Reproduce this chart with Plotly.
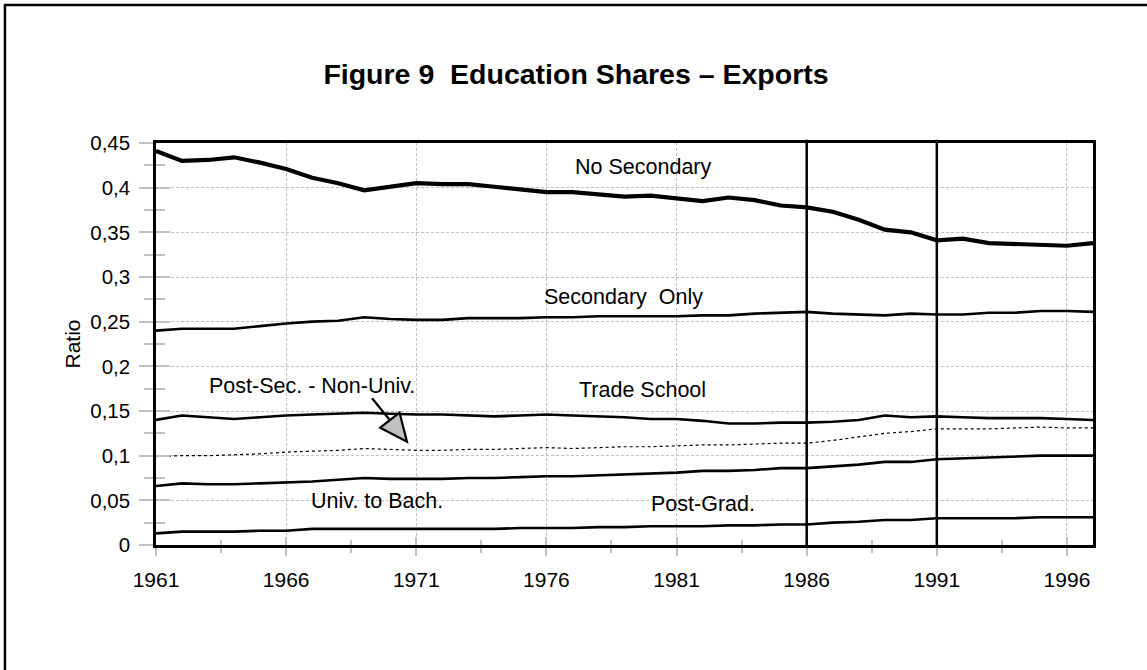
import plotly.graph_objects as go

years = list(range(1961, 1998))

no_secondary = [0.441, 0.430, 0.431, 0.434, 0.428, 0.421, 0.411, 0.405, 0.397, 0.401,
                0.405, 0.404, 0.404, 0.401, 0.398, 0.395, 0.395, 0.393, 0.390, 0.391,
                0.388, 0.385, 0.389, 0.386, 0.380, 0.378, 0.373, 0.364, 0.353, 0.350,
                0.341, 0.343, 0.338, 0.337, 0.335, 0.335, 0.338]
secondary_only = [0.240, 0.242, 0.242, 0.242, 0.245, 0.248, 0.250, 0.251, 0.255, 0.253,
                  0.252, 0.252, 0.254, 0.254, 0.254, 0.255, 0.255, 0.256, 0.256, 0.256,
                  0.256, 0.257, 0.257, 0.259, 0.260, 0.261, 0.259, 0.258, 0.257, 0.259,
                  0.258, 0.258, 0.260, 0.260, 0.262, 0.262, 0.261]
trade_school = [0.140, 0.145, 0.143, 0.141, 0.143, 0.145, 0.146, 0.147, 0.148, 0.147,
                0.146, 0.146, 0.145, 0.144, 0.145, 0.146, 0.145, 0.144, 0.143, 0.141,
                0.141, 0.139, 0.136, 0.136, 0.137, 0.137, 0.138, 0.140, 0.145, 0.143,
                0.144, 0.143, 0.142, 0.142, 0.142, 0.141, 0.140]
post_sec_non_univ = [0.099, 0.100, 0.100, 0.101, 0.102, 0.104, 0.105, 0.106, 0.108, 0.107,
                     0.106, 0.106, 0.107, 0.107, 0.108, 0.109, 0.108, 0.109, 0.110, 0.110,
                     0.111, 0.112, 0.112, 0.113, 0.114, 0.114, 0.117, 0.121, 0.125, 0.127,
                     0.130, 0.130, 0.130, 0.131, 0.132, 0.131, 0.131]
univ_to_bach = [0.066, 0.069, 0.068, 0.068, 0.069, 0.070, 0.071, 0.073, 0.075, 0.074,
                0.074, 0.074, 0.075, 0.075, 0.076, 0.077, 0.077, 0.078, 0.079, 0.080,
                0.081, 0.083, 0.083, 0.084, 0.086, 0.086, 0.088, 0.090, 0.093, 0.093,
                0.096, 0.097, 0.098, 0.099, 0.100, 0.100, 0.100]
post_grad = [0.013, 0.015, 0.015, 0.015, 0.016, 0.016, 0.018, 0.018, 0.018, 0.018,
             0.018, 0.018, 0.018, 0.018, 0.019, 0.019, 0.019, 0.020, 0.020, 0.021,
             0.021, 0.021, 0.022, 0.022, 0.023, 0.023, 0.025, 0.026, 0.028, 0.028,
             0.030, 0.030, 0.030, 0.030, 0.031, 0.031, 0.031]

break_years = [1986, 1991]

# label text and positions (year, ratio)
labels = ["No Secondary", "Secondary  Only", "Trade School",
          "Post-Sec. - Non-Univ.", "Univ. to Bach.", "Post-Grad."]
label_x = [1979.7, 1978.95, 1979.7, 1967.0, 1969.5, 1982.0]
label_y = [0.4231, 0.278, 0.1735, 0.178, 0.0496, 0.0459]

# pointer arrow for Post-Sec. - Non-Univ.
arrow_start = (1969.30, 0.1642)
arrow_base = (1969.99, 0.1397)
arrow_head = [(1969.615, 0.1313), (1970.358, 0.1481), (1970.642, 0.1156)]

FONT = "Liberation Sans, Arial, sans-serif"
GRAY = "#c0c0c0"

fig = go.Figure()

series = [
    (no_secondary, 4.2, "solid"),
    (secondary_only, 2.6, "solid"),
    (trade_school, 2.6, "solid"),
    (post_sec_non_univ, 1.2, "dot"),
    (univ_to_bach, 2.6, "solid"),
    (post_grad, 2.6, "solid"),
]
for vals, w, dash in series:
    fig.add_trace(go.Scatter(x=years, y=vals, mode="lines",
                             line=dict(color="black", width=w, dash=dash),
                             showlegend=False, hoverinfo="skip"))

# invisible trace for overlay axes (inside ticks)
fig.add_trace(go.Scatter(x=[years[0]], y=[0], xaxis="x2", yaxis="y2", mode="markers",
                         marker=dict(opacity=0), showlegend=False, hoverinfo="skip"))

for by in break_years:
    fig.add_shape(type="line", x0=by, x1=by, y0=0, y1=1.008, xref="x", yref="paper",
                  line=dict(color="black", width=2.5), layer="above")

for t, x, y in zip(labels, label_x, label_y):
    fig.add_annotation(x=x, y=y, text=t, showarrow=False,
                       font=dict(family=FONT, size=21.5, color="black"),
                       xanchor="center", yanchor="middle")

fig.add_shape(type="line", x0=arrow_start[0], y0=arrow_start[1],
              x1=arrow_base[0], y1=arrow_base[1], xref="x", yref="y",
              line=dict(color="black", width=2.2), layer="above")
path = "M {} {} L {} {} L {} {} Z".format(arrow_head[0][0], arrow_head[0][1],
                                          arrow_head[1][0], arrow_head[1][1],
                                          arrow_head[2][0], arrow_head[2][1])
fig.add_shape(type="path", path=path, xref="x", yref="y",
              fillcolor=GRAY, line=dict(color="black", width=2.2), layer="above")

# outer frame (top and left visible)
fig.add_shape(type="rect", xref="paper", yref="paper",
              x0=-0.1612, x1=1.2, y0=-0.5, y1=1.3433,
              line=dict(color="black", width=2.5), fillcolor="rgba(0,0,0,0)", layer="above")

fig.update_layout(
    width=1147, height=670,
    margin=dict(l=156, r=54, t=143, b=125, autoexpand=False),
    paper_bgcolor="white", plot_bgcolor="white",
    separators=", ",
    font=dict(family=FONT, size=20, color="black"),
    title=dict(text="<b>Figure 9  Education Shares – Exports</b>",
               x=576 / 1147, xref="container", xanchor="center",
               y=1 - 74 / 670, yref="container", yanchor="middle",
               font=dict(family=FONT, size=28.5, color="black")),
    xaxis=dict(range=[1961, 1997], tick0=1961, dtick=5,
               showline=True, linecolor="black", linewidth=2.5, mirror=True,
               showgrid=True, gridcolor=GRAY, gridwidth=1, griddash="3px,2px",
               ticks="outside", ticklen=8, tickwidth=2, tickcolor=GRAY,
               minor=dict(ticks="outside", ticklen=5, tickwidth=2, tickcolor=GRAY,
                          dtick=2.5, tick0=1961, showgrid=False),
               ticklabelstandoff=6, zeroline=False,
               tickfont=dict(family=FONT, size=21, color="black")),
    yaxis=dict(range=[0, 0.45], tick0=0, dtick=0.05,
               showline=True, linecolor="black", linewidth=2.5, mirror=True,
               showgrid=True, gridcolor=GRAY, gridwidth=1, griddash="3px,2px",
               ticks="outside", ticklen=14, tickwidth=2, tickcolor=GRAY,
               minor=dict(ticks="outside", ticklen=9, tickwidth=2, tickcolor=GRAY,
                          dtick=0.025, tick0=0, showgrid=False),
               ticklabelstandoff=5, zeroline=False,
               title=dict(text="Ratio", standoff=4,
                          font=dict(family=FONT, size=21, color="black")),
               tickfont=dict(family=FONT, size=20.5, color="black")),
    xaxis2=dict(overlaying="x", matches="x", anchor="y2", side="bottom",
                showgrid=False, showline=False, showticklabels=False, zeroline=False,
                tick0=1961, dtick=5,
                ticks="inside", ticklen=8, tickwidth=2, tickcolor=GRAY,
                minor=dict(ticks="inside", ticklen=5, tickwidth=2, tickcolor=GRAY,
                           dtick=2.5, tick0=1961)),
    yaxis2=dict(overlaying="y", matches="y", anchor="x2", side="left",
                showgrid=False, showline=False, showticklabels=False, zeroline=False,
                tick0=0, dtick=0.05,
                ticks="inside", ticklen=14, tickwidth=2, tickcolor=GRAY,
                minor=dict(ticks="inside", ticklen=9, tickwidth=2, tickcolor=GRAY,
                           dtick=0.025, tick0=0)),
)

fig.write_html("out.html", config={"displayModeBar": False},
               post_script="document.body.style.margin='0';document.body.style.overflow='hidden';")
